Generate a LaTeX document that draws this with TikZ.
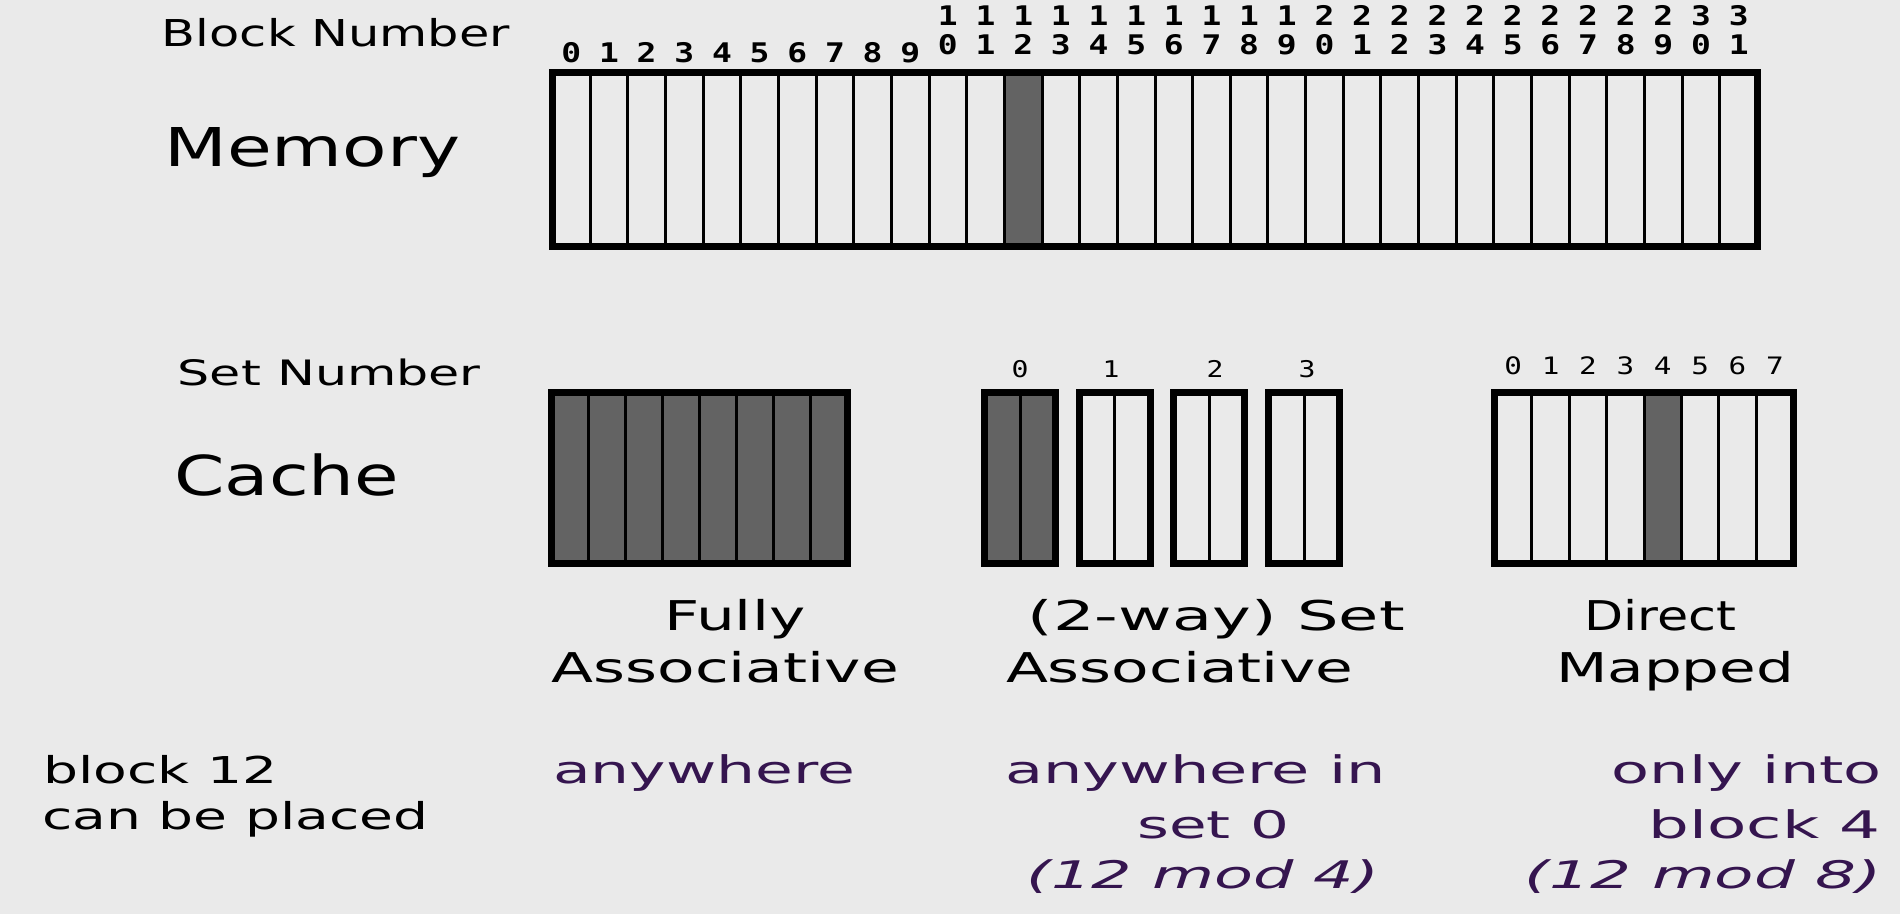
\documentclass[tikz,border=0pt]{standalone}
\usepackage{fontspec}
\usepackage{graphicx}
\setmainfont{DejaVu Sans}
\newfontfamily\monof{DejaVu Sans Mono}
\definecolor{bgc}{HTML}{EAEAEA}
\definecolor{shadec}{HTML}{636363}
\definecolor{purp}{HTML}{35154F}
\newcommand{\wt}[2]{\resizebox{#1pt}{\height}{#2}}
\newcommand{\fsz}[1]{\fontsize{#1pt}{#1pt}\selectfont}
\newcommand{\wdig}[1]{\scalebox{1.22}[1]{#1}}
\tikzset{
  txt/.style={inner sep=0pt, anchor=base west},
  txtr/.style={inner sep=0pt, anchor=base east},
  memnum/.style={inner sep=0pt, anchor=base, font=\monof\bfseries\fsz{27}},
  setnum/.style={inner sep=0pt, anchor=base, font=\monof\fsz{23}},
  outerbox/.style={draw=black, line width=7pt},
  divider/.style={draw=black, line width=3pt},
  thindiv/.style={draw=black, line width=2.5pt},
  shadecell/.style={fill=shadec}
}
\begin{document}
\begin{tikzpicture}[x=1pt,y=-1pt]
\useasboundingbox (0,0) rectangle (1900,914);
\fill[bgc] (0,0) rectangle (1900,914);

% ---------------- Memory ----------------
\def\mL{552.5}\def\mR{1757.5}\def\mT{72.5}\def\mB{246}
\pgfmathsetmacro{\mw}{(\mR-\mL)/32}
\fill[shadecell] ({\mL+12*\mw},\mT) rectangle ({\mL+13*\mw},\mB);
\foreach \i in {1,...,31}{
  \draw[divider] ({\mL+\i*\mw},\mT) -- ({\mL+\i*\mw},\mB);
}
\draw[outerbox] (\mL,\mT) rectangle (\mR,\mB);
\foreach \i in {0,...,31}{
  \pgfmathsetmacro{\cx}{\mL+(\i+0.5)*\mw}
  \ifnum\i<10
    \node[memnum] (mn\i) at (\cx,62) {\wdig{\i}};
  \else
    \pgfmathtruncatemacro{\tens}{div(\i,10)}
    \pgfmathtruncatemacro{\ones}{mod(\i,10)}
    \node[memnum] (mt\i) at (\cx,25) {\wdig{\tens}};
    \node[memnum] (mn\i) at (\cx,54) {\wdig{\ones}};
  \fi
}

% ---------------- Fully associative ----------------
\def\fL{551.5}\def\fR{847.5}\def\cT{392.5}\def\cB{563.5}
\pgfmathsetmacro{\fw}{(\fR-\fL)/8}
\fill[shadecell] (\fL,\cT) rectangle (\fR,\cB);
\foreach \i in {1,...,7}{
  \draw[thindiv] ({\fL+\i*\fw},\cT) -- ({\fL+\i*\fw},\cB);
}
\draw[outerbox] (\fL,\cT) rectangle (\fR,\cB);

% ---------------- Set associative ----------------
\foreach \s/\lx in {0/1020,1/1111,2/1215,3/1307}{
  \pgfmathsetmacro{\sl}{984.5+94.7*\s}
  \pgfmathsetmacro{\sr}{\sl+71}
  \ifnum\s=0
    \fill[shadecell] (\sl,\cT) rectangle (\sr,\cB);
  \fi
  \draw[divider] ({(\sl+\sr)/2},\cT) -- ({(\sl+\sr)/2},\cB);
  \draw[outerbox] (\sl,\cT) rectangle (\sr,\cB);
  \node[setnum] (sn\s) at (\lx,377) {\wdig{\s}};
}

% ---------------- Direct mapped ----------------
\def\dL{1494.5}\def\dR{1793.5}
\pgfmathsetmacro{\dw}{(\dR-\dL)/8}
\fill[shadecell] ({\dL+4*\dw},\cT) rectangle ({\dL+5*\dw},\cB);
\foreach \i in {1,...,7}{
  \draw[divider] ({\dL+\i*\dw},\cT) -- ({\dL+\i*\dw},\cB);
}
\draw[outerbox] (\dL,\cT) rectangle (\dR,\cB);
\foreach \i in {0,...,7}{
  \node[setnum, font=\monof\fsz{24}] (dn\i) at ({\dL+(\i+0.5)*\dw},374) {\wdig{\i}};
}

% ---------------- Labels ----------------
\node[txt, font=\fsz{37}] (blocknum) at (161.7,46.7) {\wt{348}{Block Number}};
\node[txt, font=\fsz{53.5}] (memory) at (164,166) {\wt{296}{Memory}};
\node[txt, font=\fsz{35}] (setnum) at (177.6,385) {\wt{303}{Set Number}};
\node[txt, font=\fsz{55}] (cache) at (174,495) {\wt{225}{Cache}};

\node[txt, font=\fsz{41}] (fully1) at (664,630) {\wt{141}{Fully}};
\node[txt, font=\fsz{41}] (fully2) at (551.5,682) {\wt{347}{Associative}};
\node[txt, font=\fsz{41}] (seta1) at (1027.6,630) {\wt{377}{(2-way) Set}};
\node[txt, font=\fsz{41}] (seta2) at (1005.8,682) {\wt{347}{Associative}};
\node[txt, font=\fsz{41}] (dir1) at (1584,630) {\wt{152}{Direct}};
\node[txt, font=\fsz{41}] (dir2) at (1556,682) {\wt{238}{Mapped}};

\node[txt, font=\fsz{37}] (q1) at (43,783) {\wt{234}{block 12}};
\node[txt, font=\fsz{37}] (q2) at (42,829) {\wt{386}{can be placed}};

\node[txt, font=\fsz{38}, text=purp] (a1) at (553,783) {\wt{302}{anywhere}};

\node[txt, font=\fsz{38}, text=purp] (b1) at (1005,783) {\wt{381}{anywhere in}};
\node[txt, font=\fsz{38}, text=purp] (b2) at (1137,838) {\wt{152}{set 0}};
\node[txt, font=\fsz{38}\itshape, text=purp] (b3) at (1026,888) {\wt{353}{(12 mod 4)}};

\node[txtr, font=\fsz{38}, text=purp] (c1) at (1882,783) {\wt{270}{only into}};
\node[txtr, font=\fsz{38}, text=purp] (c2) at (1881,838) {\wt{232}{block 4}};
\node[txtr, font=\fsz{38}\itshape, text=purp] (c3) at (1882,888) {\wt{357}{(12 mod 8)}};
\end{tikzpicture}
\end{document}
